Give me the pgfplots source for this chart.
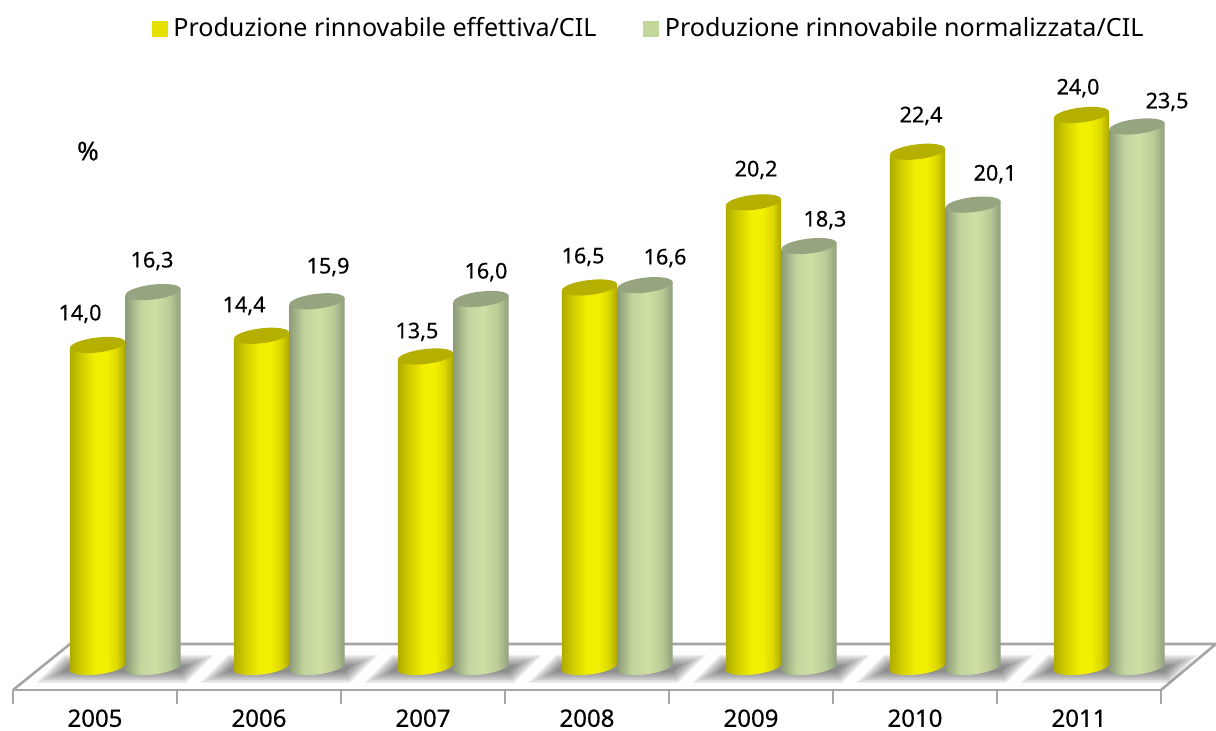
\documentclass[border=0pt]{standalone}
\usepackage{pgfplots}
\pgfplotsset{compat=1.18}
\usepackage{fontspec}
\setmainfont{Noto Sans}
\newfontfamily\labelfont[FakeBold=0.35]{Noto Sans}
\definecolor{floorline}{HTML}{A6A6A6}
\definecolor{legY}{HTML}{E6E000}
\definecolor{legG}{HTML}{C3D69B}
\definecolor{yA}{HTML}{B0AB00}
\definecolor{yB}{HTML}{D6D200}
\definecolor{yC}{HTML}{F3EF00}
\definecolor{yD}{HTML}{DCD800}
\definecolor{yE}{HTML}{ADA800}
\pgfdeclarehorizontalshading{ycyl}{100bp}{color(0bp)=(yA);color(25bp)=(yA);color(37bp)=(yB);color(48bp)=(yC);color(58bp)=(yC);color(67bp)=(yD);color(75bp)=(yE);color(100bp)=(yE)}
\definecolor{gA}{HTML}{8C9B78}
\definecolor{gB}{HTML}{C2D39C}
\definecolor{gC}{HTML}{CFE0A5}
\definecolor{gD}{HTML}{BACB96}
\definecolor{gE}{HTML}{8F9F7C}
\pgfdeclarehorizontalshading{gcyl}{100bp}{color(0bp)=(gA);color(25bp)=(gA);color(38bp)=(gB);color(52bp)=(gC);color(65bp)=(gD);color(75bp)=(gE);color(100bp)=(gE)}
\definecolor{ytopc}{HTML}{B5AF00}
\definecolor{gtopc}{HTML}{96A57F}
\newcommand\ellpath{\pgfpathellipse{\pgfpointorigin}{\pgfqpoint{13.8pt}{1.65pt}}{\pgfqpoint{-0.45pt}{3.7pt}}}
\pgfdeclareplotmark{ytop}{\ellpath\pgfsetfillcolor{ytopc}\pgfusepathqfill}
\pgfdeclareplotmark{gtop}{\ellpath\pgfsetfillcolor{gtopc}\pgfusepathqfill}
\pgfdeclareplotmark{ybot}{\ellpath\pgfshadepath{ycyl}{0}\pgfusepath{discard}}
\pgfdeclareplotmark{gbot}{\ellpath\pgfshadepath{gcyl}{0}\pgfusepath{discard}}
% #1 y/g, #2 category, #3 value, #4 shift, #5 shear compensation
\newcommand\cyl[5]{%
 \addplot[only marks,mark=#1bot,forget plot,xshift=#4pt] coordinates {(#2,0)};
 \addplot[ybar,bar width=27.6pt,bar shift=#4pt,draw=none,shade,shading=#1cyl,forget plot,cm={1,0.12,0,1,(0pt,#5pt)}] coordinates {(#2,#3)};
 \addplot[only marks,mark=#1top,forget plot,xshift=#4pt] coordinates {(#2,#3)};
}
\newcommand\shlayer[7]{\addplot[fill=black,fill opacity=0.07,draw=none,forget plot,xshift=#1pt] coordinates {(#2,#6)(#3,#6)(#4,#7)(#5,#7)} -- cycle;}
\newcommand\shadowlayers[1]{%
 \shlayer{#1}{-0.360}{0.555}{0.726}{-0.189}{-0.696}{0.522}
 \shlayer{#1}{-0.337}{0.550}{0.703}{-0.185}{-0.631}{0.457}
 \shlayer{#1}{-0.314}{0.546}{0.680}{-0.180}{-0.565}{0.391}
 \shlayer{#1}{-0.291}{0.541}{0.657}{-0.175}{-0.500}{0.326}
 \shlayer{#1}{-0.268}{0.537}{0.634}{-0.171}{-0.435}{0.261}
 \shlayer{#1}{-0.246}{0.532}{0.611}{-0.166}{-0.369}{0.195}
 \shlayer{#1}{-0.223}{0.527}{0.588}{-0.162}{-0.304}{0.130}
 \shlayer{#1}{-0.200}{0.523}{0.565}{-0.158}{-0.239}{0.065}
}
\begin{document}
\begin{tikzpicture}
\path[use as bounding box] (0,0) rectangle (608pt,365.5pt);
\begin{axis}[
  at={(6.5pt,20.5pt)},anchor=south west,
  scale only axis,width=574pt,height=315pt,
  xmin=-0.5,xmax=6.5,ymin=-1,ymax=26.39,
  clip=false,
  axis x line=bottom,axis y line=none,
  axis line style={floorline,line width=1.3pt,-},
  xtick={0,1,2,3,4,5,6},
  xticklabels={2005,2006,2007,2008,2009,2010,2011},
  major tick length=0pt,
  xticklabel style={font=\labelfont\fontsize{12}{14}\selectfont,yshift=-9.5pt,inner sep=0pt,text=black},
  extra x ticks={-0.5,0.5,1.5,2.5,3.5,4.5,5.5,6.5},
  extra x tick labels={},
  extra x tick style={major tick length=7pt,tick align=outside,tick style={floorline,line width=0.8pt}},
  legend style={at={(0.5546,1.0495)},anchor=center,draw=none,fill=none,legend columns=2,
    font=\fontsize{12.55}{14}\selectfont,
    /tikz/every odd column/.append style={column sep=0.8pt},
    /tikz/every even column/.append style={column sep=21.5pt}},
  legend cell align=left,
]
\addlegendimage{area legend,legY,fill=legY,legend image code/.code={\fill[legY] (0pt,-3.7pt) rectangle (7.5pt,3.7pt);}}
\addlegendentry{Produzione rinnovabile effettiva/CIL}
\addlegendimage{area legend,legG,fill=legG,legend image code/.code={\fill[legG] (0pt,-3.7pt) rectangle (7.5pt,3.7pt);}}
\addlegendentry{Produzione rinnovabile normalizzata/CIL}
% floor outline
\addplot[draw=floorline,line width=1.3pt,forget plot] coordinates {(-0.5,-1)(-0.152,1)(6.835,1)(6.5,-1)};
% shadows
\shadowlayers{0}\shadowlayers{82}\shadowlayers{164}\shadowlayers{246}\shadowlayers{328}\shadowlayers{410}\shadowlayers{492}
% cylinders
\cyl{y}{0}{14.0}{1.25}{-5.07}\cyl{g}{0}{16.3}{29}{-8.4}
\cyl{y}{1}{14.4}{1.25}{-14.91}\cyl{g}{1}{15.9}{29}{-18.24}
\cyl{y}{2}{13.5}{1.25}{-24.75}\cyl{g}{2}{16.0}{29}{-28.08}
\cyl{y}{3}{16.5}{1.25}{-34.59}\cyl{g}{3}{16.6}{29}{-37.92}
\cyl{y}{4}{20.2}{1.25}{-44.43}\cyl{g}{4}{18.3}{29}{-47.76}
\cyl{y}{5}{22.4}{1.25}{-54.27}\cyl{g}{5}{20.1}{29}{-57.6}
\cyl{y}{6}{24.0}{1.25}{-64.11}\cyl{g}{6}{23.5}{29}{-67.44}
% labels
\begin{scope}[every node/.style={font=\labelfont\fontsize{10.8}{13}\selectfont,inner sep=0pt,text=black}]
\node at (axis cs:-0.091,15.35) {14,0};
\node at (axis cs:0.348,17.65) {16,3};
\node at (axis cs:0.909,15.70) {14,4};
\node at (axis cs:1.421,17.39) {15,9};
\node at (axis cs:1.963,14.57) {13,5};
\node at (axis cs:2.384,17.17) {16,0};
\node at (axis cs:2.976,17.83) {16,5};
\node at (axis cs:3.476,17.78) {16,6};
\node at (axis cs:4.031,21.61) {20,2};
\node at (axis cs:4.451,19.43) {18,3};
\node at (axis cs:5.037,23.96) {22,4};
\node at (axis cs:5.488,21.43) {20,1};
\node at (axis cs:5.994,25.17) {24,0};
\node at (axis cs:6.537,24.57) {23,5};
\node at (axis cs:-0.043,22.43) {\fontsize{13}{14}\selectfont\%};
\end{scope}
\end{axis}
\end{tikzpicture}
\end{document}
